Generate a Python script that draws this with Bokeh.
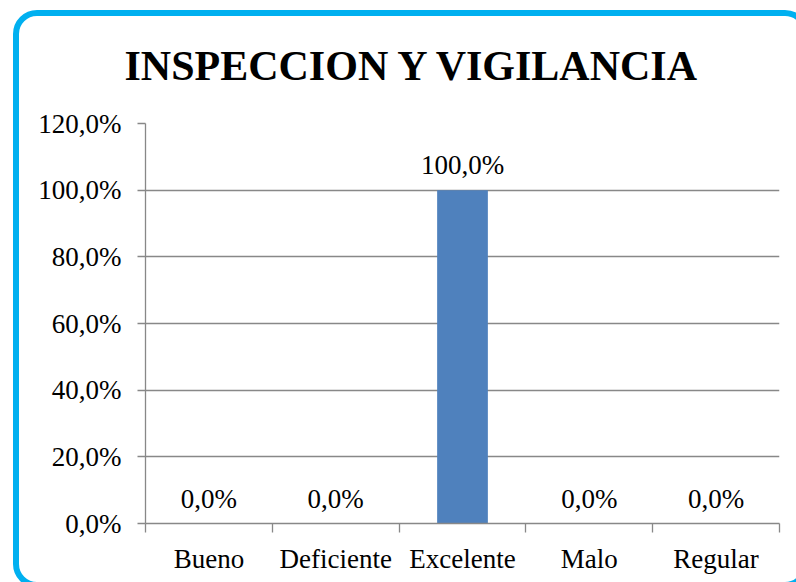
from bokeh.plotting import figure
from bokeh.models import ColumnDataSource, Range1d, FixedTicker, LabelSet, Title, InlineStyleSheet
from bokeh.embed import file_html
from bokeh.resources import INLINE

# ---- data ----
categories = ["Bueno", "Deficiente", "Excelente", "Malo", "Regular"]
values = [0.0, 0.0, 100.0, 0.0, 0.0]
y_ticks = [0, 20, 40, 60, 80, 100, 120]
y_tick_labels = ["0,0%", "20,0%", "40,0%", "60,0%", "80,0%", "100,0%", "120,0%"]
title_text = "INSPECCION Y VIGILANCIA"

value_labels = [f"{v:.1f}%".replace(".", ",") for v in values]
positions = [i + 0.5 for i in range(len(categories))]
edges = list(range(len(categories) + 1))

FONT = "Liberation Serif"
GRAY = "#888888"

src = ColumnDataSource(dict(x=positions, cat=categories, val=values, lab=value_labels))

p = figure(width=796, height=582, output_backend="svg", toolbar_location=None,
           x_range=Range1d(0, len(categories)), y_range=Range1d(0, 120),
           min_border_left=145, min_border_right=17, min_border_top=123, min_border_bottom=59)
p.outline_line_color = None

# rounded blue frame around the chart (runs off the right and bottom edges)
p.stylesheets = [InlineStyleSheet(css="""
:host { position: relative; overflow: hidden; }
:host::after {
  content: ""; position: absolute; left: 13px; top: 10px;
  width: 796px; height: 578px; box-sizing: border-box;
  border: 6px solid #00B0F0; border-radius: 24px;
  pointer-events: none; z-index: 10;
}
""")]

p.vbar(x="x", top="val", width=0.4, source=src, color="#4F81BD", line_color=None)

# y axis
ya = p.yaxis[0]
ya.ticker = FixedTicker(ticks=y_ticks)
ya.major_label_overrides = {t: l for t, l in zip(y_ticks, y_tick_labels)}
ya.major_label_text_font = FONT
ya.major_label_text_font_size = "27px"
ya.major_label_text_color = "black"
ya.major_label_standoff = 16
ya.major_tick_out = 8
ya.major_tick_in = 0
ya.minor_tick_line_color = None
ya.axis_line_color = GRAY
ya.major_tick_line_color = GRAY
ya.axis_line_width = 1.3
ya.major_tick_line_width = 1.3

p.ygrid.grid_line_color = GRAY
p.ygrid.grid_line_width = 1.3
p.ygrid.ticker = FixedTicker(ticks=y_ticks)
p.xgrid.grid_line_color = None

# x axis: labels at category centres, tick marks at category boundaries
xa = p.xaxis[0]
xa.ticker = FixedTicker(ticks=positions, minor_ticks=edges)
xa.major_label_overrides = {x: c for x, c in zip(positions, categories)}
xa.major_label_text_font = FONT
xa.major_label_text_font_size = "27px"
xa.major_label_text_color = "black"
xa.major_label_standoff = 11
xa.major_tick_line_color = None
xa.major_tick_out = 0
xa.major_tick_in = 0
xa.minor_tick_out = 9
xa.minor_tick_in = 0
xa.minor_tick_line_color = GRAY
xa.minor_tick_line_width = 1.3
xa.axis_line_color = GRAY
xa.axis_line_width = 1.3

# value labels
labels = LabelSet(x="x", y="val", text="lab", source=src, text_align="center",
                  text_baseline="alphabetic", y_offset=16, text_font=FONT,
                  text_font_size="27px", text_color="black")
p.add_layout(labels)

# title
p.title = Title(text=title_text, align="left", text_font=FONT, text_font_size="42px",
                text_font_style="bold", text_color="black", standoff=70, offset=-21)

open("out.html", "w").write(file_html(p, INLINE))
